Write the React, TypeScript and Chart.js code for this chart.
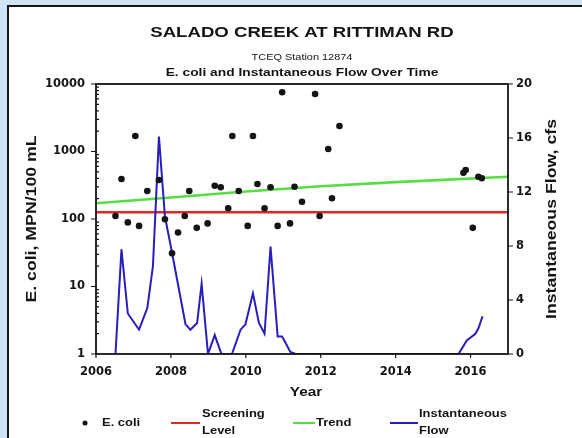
import React, { useEffect, useRef } from 'react';
import { Chart, registerables } from 'chart.js';

Chart.register(...registerables);

// ---- data ----
const ecoliYears = [
  2006.52, 2006.68, 2006.85, 2007.05, 2007.15, 2007.37, 2007.68, 2007.84, 2008.03, 2008.19,
  2008.37, 2008.49, 2008.69, 2008.98, 2009.17, 2009.33, 2009.53, 2009.64, 2009.81, 2010.05,
  2010.19, 2010.31, 2010.5, 2010.66, 2010.85, 2010.97, 2011.18, 2011.3, 2011.5, 2011.85,
  2011.97, 2012.2, 2012.3, 2012.5, 2015.81, 2015.87, 2016.06, 2016.21, 2016.3,
];
const ecoliValues = [
  111, 391, 89, 1700, 79, 260, 378, 99, 31, 63,
  111, 260, 74, 86, 311, 295, 144, 1700, 260, 79,
  1700, 330, 144, 295, 79, 7540, 86, 301, 180, 7110,
  111, 1090, 203, 2390, 485, 532, 74, 423, 401,
];

const flowYears = [
  2006.52, 2006.68, 2006.85, 2007.15, 2007.37, 2007.52, 2007.68, 2007.84, 2008.03, 2008.39,
  2008.52, 2008.7, 2008.82, 2008.99, 2009.17, 2009.35, 2009.63, 2009.86, 2009.99, 2010.19,
  2010.35, 2010.5, 2010.66, 2010.85, 2010.97, 2011.19, 2011.33, 2015.68, 2015.9, 2016.13,
  2016.21, 2016.32,
];
const flowValues = [
  0, 7.75, 3.0, 1.8, 3.4, 6.5, 16.1, 10.2, 7.5, 2.2,
  1.8, 2.3, 5.2, 0, 1.4, 0, 0, 1.8, 2.2, 4.5,
  2.3, 1.5, 7.95, 1.3, 1.3, 0.15, 0, 0, 1.0, 1.5,
  1.9, 2.8,
];

const trendYears = [2006, 2008, 2010, 2012, 2014, 2017];
const trendValues = [171, 208, 255, 305, 352, 423];

const screeningYears = [2006, 2017];
const screeningLevel = 126;

const xTicks = [2006, 2008, 2010, 2012, 2014, 2016];
const leftTicks = [1, 10, 100, 1000, 10000];
const rightTicks = [0, 4, 8, 12, 16, 20];

const titleText = 'SALADO CREEK AT RITTIMAN RD';
const subtitleText = 'TCEQ Station 12874';
const subtitle2Text = 'E. coli and Instantaneous Flow Over Time';
const leftTitle = 'E. coli, MPN/100 mL';
const rightTitle = 'Instantaneous Flow, cfs';
const xTitle = 'Year';

const RED = 'rgb(226,38,38)';
const GREEN = 'rgb(85,222,65)';
const BLUE = 'rgb(40,30,190)';
const INK = '#141414';

function drawText(
  ctx: CanvasRenderingContext2D,
  text: string,
  x: number,
  y: number,
  font: string,
  sx: number,
  align: CanvasTextAlign = 'center',
  rotate = 0,
) {
  ctx.save();
  ctx.translate(x, y);
  if (rotate) ctx.rotate(rotate);
  ctx.scale(sx, 1);
  ctx.font = font;
  ctx.textAlign = align;
  ctx.textBaseline = 'middle';
  ctx.fillStyle = INK;
  ctx.fillText(text, 0, 0);
  ctx.restore();
}

const decorPlugin = {
  id: 'decor',
  afterDraw(chart: any) {
    const { ctx, chartArea: a, scales } = chart;
    const xs = scales.x;
    const yL = scales.yL;
    const yR = scales.yR;
    ctx.save();
    // frame
    ctx.strokeStyle = INK;
    ctx.lineWidth = 1.8;
    ctx.strokeRect(a.left, a.top, a.right - a.left, a.bottom - a.top);
    // ticks
    ctx.lineWidth = 1.2;
    ctx.beginPath();
    leftTicks.forEach((v) => {
      const py = yL.getPixelForValue(v);
      ctx.moveTo(a.left - 5, py);
      ctx.lineTo(a.left, py);
    });
    for (let k = 0; k < 4; k++) {
      for (let m = 2; m <= 9; m++) {
        const py = yL.getPixelForValue(m * Math.pow(10, k));
        ctx.moveTo(a.left, py);
        ctx.lineTo(a.left + 3, py);
      }
    }
    rightTicks.forEach((v) => {
      const py = yR.getPixelForValue(v);
      ctx.moveTo(a.right, py);
      ctx.lineTo(a.right + 5, py);
    });
    xTicks.forEach((v) => {
      const px = xs.getPixelForValue(v);
      ctx.moveTo(px, a.bottom);
      ctx.lineTo(px, a.bottom + 4);
    });
    ctx.stroke();

    const cx = (a.left + a.right) / 2;
    const cy = (a.top + a.bottom) / 2;
    const F = '"Liberation Sans", Arial, sans-serif';
    // titles
    drawText(ctx, titleText, cx, 33, `bold 15.5px ${F}`, 1.2);
    drawText(ctx, subtitleText, cx, 57, `9.5px ${F}`, 1.15);
    drawText(ctx, subtitle2Text, cx, 73, `bold 11.5px ${F}`, 1.2);
    // axis titles
    drawText(ctx, leftTitle, 32, cy, `bold 15px ${F}`, 1.18, 'center', -Math.PI / 2);
    drawText(ctx, rightTitle, 552, cy, `bold 15px ${F}`, 1.18, 'center', -Math.PI / 2);
    drawText(ctx, xTitle, cx + 4, 392, `bold 13px ${F}`, 1.18);

    // legend
    const ly = 423;
    const lf = `bold 11px ${F}`;
    ctx.fillStyle = INK;
    ctx.beginPath();
    ctx.arc(85, ly, 2.5, 0, Math.PI * 2);
    ctx.fill();
    drawText(ctx, 'E. coli', 102, ly, lf, 1.18, 'left');

    ctx.lineWidth = 2;
    ctx.strokeStyle = RED;
    ctx.beginPath();
    ctx.moveTo(171, ly);
    ctx.lineTo(200, ly);
    ctx.stroke();
    drawText(ctx, 'Screening', 202, ly - 9, lf, 1.18, 'left');
    drawText(ctx, 'Level', 202, ly + 8, lf, 1.18, 'left');

    ctx.strokeStyle = GREEN;
    ctx.beginPath();
    ctx.moveTo(293, ly);
    ctx.lineTo(315, ly);
    ctx.stroke();
    drawText(ctx, 'Trend', 316, ly, lf, 1.18, 'left');

    ctx.strokeStyle = BLUE;
    ctx.beginPath();
    ctx.moveTo(390, ly);
    ctx.lineTo(418, ly);
    ctx.stroke();
    drawText(ctx, 'Instantaneous', 419, ly - 9, lf, 1.18, 'left');
    drawText(ctx, 'Flow', 419, ly + 8, lf, 1.18, 'left');

    ctx.restore();
  },
};

export default function App() {
  const ref = useRef<HTMLCanvasElement | null>(null);

  useEffect(() => {
    if (!ref.current) return;
    const tickFont = { family: '"DejaVu Sans", sans-serif', size: 11.5, weight: 'bold' as const };
    const chart = new Chart(ref.current, {
      type: 'scatter',
      data: {
        datasets: [
          {
            label: 'E. coli',
            data: ecoliYears.map((x, i) => ({ x, y: ecoliValues[i] })),
            yAxisID: 'yL',
            showLine: false,
            pointRadius: 3.3,
            pointBackgroundColor: INK,
            pointBorderWidth: 0,
            order: 0,
          },
          {
            label: 'Screening Level',
            data: screeningYears.map((x) => ({ x, y: screeningLevel })),
            yAxisID: 'yL',
            showLine: true,
            pointRadius: 0,
            borderColor: RED,
            borderWidth: 2.6,
            order: 2,
          },
          {
            label: 'Trend',
            data: trendYears.map((x, i) => ({ x, y: trendValues[i] })),
            yAxisID: 'yL',
            showLine: true,
            pointRadius: 0,
            borderColor: GREEN,
            borderWidth: 2.6,
            order: 3,
          },
          {
            label: 'Instantaneous Flow',
            data: flowYears.map((x, i) => ({ x, y: flowValues[i] })),
            yAxisID: 'yR',
            showLine: true,
            pointRadius: 0,
            borderColor: BLUE,
            borderWidth: 2,
            tension: 0,
            order: 1,
          },
        ],
      },
      options: {
        animation: false,
        responsive: false,
        devicePixelRatio: 1,
        layout: { padding: { top: 84, left: 0, right: 0, bottom: 0 } },
        plugins: { legend: { display: false }, tooltip: { enabled: false }, title: { display: false } },
        scales: {
          x: {
            type: 'linear',
            position: 'bottom',
            min: 2006,
            max: 2017,
            afterBuildTicks: (s: any) => {
              s.ticks = xTicks.map((value) => ({ value }));
            },
            afterFit: (s: any) => {
              s.height = 84;
            },
            grid: { display: false, drawTicks: false },
            border: { display: false },
            ticks: {
              font: tickFont,
              color: INK,
              padding: 11,
              maxRotation: 0,
              autoSkip: false,
              callback: (v: any) => String(v),
            },
          },
          yL: {
            type: 'logarithmic',
            position: 'left',
            min: 1,
            max: 10000,
            afterBuildTicks: (s: any) => {
              s.ticks = leftTicks.map((value) => ({ value, major: true }));
            },
            afterFit: (s: any) => {
              s.width = 96;
            },
            grid: { display: false, drawTicks: false },
            border: { display: false },
            ticks: {
              font: tickFont,
              color: INK,
              padding: 11,
              autoSkip: false,
              callback: (v: any) => String(v),
            },
          },
          yR: {
            type: 'linear',
            position: 'right',
            min: 0,
            max: 20,
            afterBuildTicks: (s: any) => {
              s.ticks = rightTicks.map((value) => ({ value }));
            },
            afterFit: (s: any) => {
              s.width = 74;
            },
            grid: { display: false, drawTicks: false },
            border: { display: false },
            ticks: {
              font: tickFont,
              color: INK,
              padding: 8,
              autoSkip: false,
              callback: (v: any) => String(v),
            },
          },
        },
      },
      plugins: [decorPlugin],
    } as any);
    return () => chart.destroy();
  }, []);

  return (
    <div
      style={{
        position: 'fixed',
        left: 0,
        top: 0,
        width: 582,
        height: 438,
        background: 'rgb(207,227,243)',
        overflow: 'hidden',
      }}
    >
      <div
        style={{
          position: 'absolute',
          left: 7,
          top: 5,
          width: 575,
          height: 433,
          background: '#fff',
          borderLeft: '2px solid #151515',
          borderTop: '2px solid #151515',
          boxSizing: 'border-box',
        }}
      />
      <canvas
        ref={ref}
        width={582}
        height={438}
        style={{ position: 'absolute', left: 0, top: 0, width: 582, height: 438 }}
      />
    </div>
  );
}
